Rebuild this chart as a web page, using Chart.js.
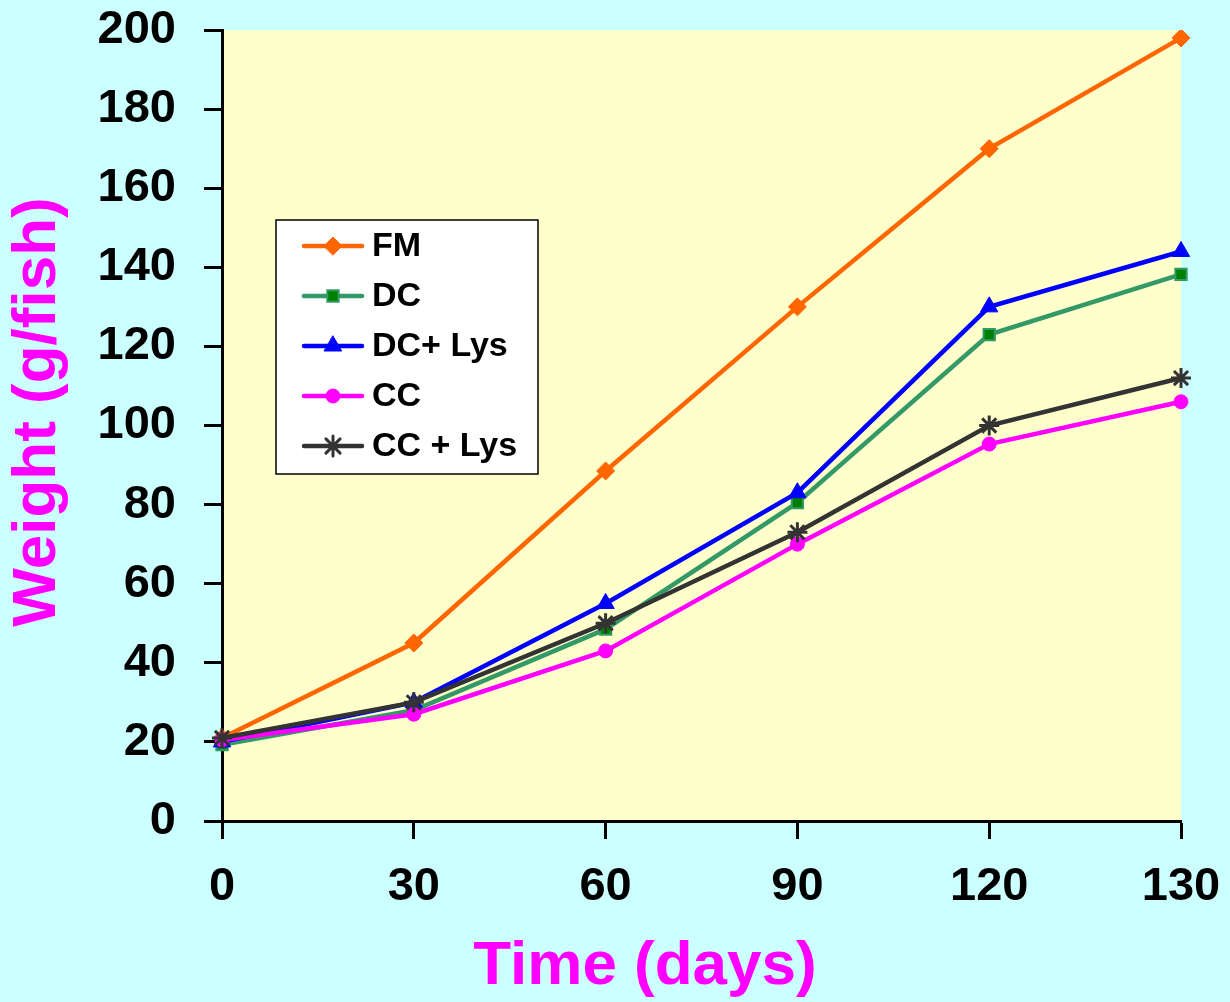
<!DOCTYPE html>
<html>
<head>
<meta charset="utf-8">
<script src="https://cdn.jsdelivr.net/npm/chart.js@4.4.1/dist/chart.umd.min.js"></script>
<style>
  html, body { margin: 0; padding: 0; background: #ccffff; }
  #wrap { width: 1230px; height: 1002px; position: relative; }
</style>
</head>
<body>
<div id="wrap"><canvas id="chart" width="1230" height="1002"></canvas></div>
<script>
// Data
const days = ['0', '30', '60', '90', '120', '130']
const fm = [21, 45, 88.5, 130, 170, 198]
const dc = [19.3, 28, 48.5, 80.5, 123, 138.2]
const dcLys = [20, 30, 55, 83, 130, 144]
const cc = [20.5, 27, 43, 70, 95.3, 106]
const ccLys = [21, 30, 50, 73, 100, 112]
const yTicks = [0, 20, 40, 60, 80, 100, 120, 140, 160, 180, 200]

const FONT = 'Arial, "Liberation Sans", sans-serif'

// Yellow plot area behind the lines
const plotBg = {
  id: 'plotBg',
  beforeDraw(chart) {
    const { ctx, chartArea: a } = chart
    ctx.save()
    ctx.fillStyle = '#ffffcc'
    ctx.fillRect(a.left, a.top, a.right - a.left, a.bottom - a.top)
    ctx.restore()
  }
}

// Boxed legend inside the plot, plus the two magenta axis titles
const extras = {
  id: 'extras',
  afterDraw(chart) {
    const ctx = chart.ctx
    ctx.save()

    // legend box
    ctx.fillStyle = '#ffffff'
    ctx.fillRect(276, 220, 262, 254)
    ctx.strokeStyle = '#000000'
    ctx.lineWidth = 1.5
    ctx.strokeRect(276, 220, 262, 254)

    chart.data.datasets.forEach((ds, i) => {
      const y = 246 + i * 50
      ctx.strokeStyle = ds.borderColor
      ctx.lineWidth = ds.borderWidth
      ctx.lineCap = 'round'
      ctx.beginPath()
      ctx.moveTo(304, y)
      ctx.lineTo(362, y)
      ctx.stroke()

      ctx.fillStyle = ds.pointBackgroundColor
      ctx.strokeStyle = ds.pointBorderColor
      ctx.lineWidth = ds.pointBorderWidth
      Chart.helpers.drawPoint(ctx, {
        pointStyle: ds.pointStyle,
        radius: ds.pointRadius,
        borderWidth: ds.pointBorderWidth,
        rotation: 0
      }, 333, y)

      ctx.fillStyle = '#000000'
      ctx.font = 'bold 34px ' + FONT
      ctx.textBaseline = 'middle'
      ctx.textAlign = 'left'
      ctx.fillText(ds.label, 372, y + 1)
    })

    // axis titles
    ctx.fillStyle = '#ff00ff'
    ctx.font = 'bold 62px ' + FONT
    ctx.textAlign = 'center'
    ctx.textBaseline = 'middle'
    ctx.fillText('Time (days)', 645, 967)

    ctx.translate(38, 412)
    ctx.rotate(-Math.PI / 2)
    ctx.fillText('Weight (g/fish)', 0, 0)

    ctx.restore()
  }
}

const series = [
  { label: 'FM', data: fm, line: '#ff6600', fill: '#ff6600', edge: '#ff6600', style: 'rectRot', r: 9, bw: 1 },
  { label: 'DC', data: dc, line: '#339966', fill: '#008000', edge: '#339966', style: 'rect', r: 8, bw: 2 },
  { label: 'DC+ Lys', data: dcLys, line: '#0000ff', fill: '#0000ff', edge: '#0000ff', style: 'triangle', r: 10, bw: 1 },
  { label: 'CC', data: cc, line: '#ff00ff', fill: '#ff00ff', edge: '#ff00ff', style: 'circle', r: 7, bw: 1 },
  { label: 'CC + Lys', data: ccLys, line: '#333333', fill: '#333333', edge: '#333333', style: 'star', r: 10, bw: 3 }
]

const datasets = series.map((s, i) => ({
  label: s.label,
  data: s.data,
  borderColor: s.line,
  borderWidth: 4.5,
  pointStyle: s.style,
  pointRadius: s.r,
  pointBackgroundColor: s.fill,
  pointBorderColor: s.edge,
  pointBorderWidth: s.bw,
  tension: 0,
  order: series.length - i
}))

// fix the axis boxes so the plot area lands where the reference has it
const noOverflow = scale => {
  scale.paddingTop = 0
  scale.paddingBottom = 0
  scale.paddingLeft = 0
  scale.paddingRight = 0
}

new Chart(document.getElementById('chart'), {
  type: 'line',
  data: { labels: days, datasets },
  options: {
    responsive: false,
    animation: false,
    layout: { padding: { top: 30, right: 49, left: 0, bottom: 0 } },
    plugins: {
      legend: { display: false },
      tooltip: { enabled: false }
    },
    scales: {
      x: {
        offset: false,
        grid: {
          drawOnChartArea: false,
          drawTicks: true,
          tickLength: 18,
          tickWidth: 3,
          tickColor: '#000000'
        },
        border: { display: true, color: '#000000', width: 3 },
        ticks: {
          color: '#000000',
          padding: 20,
          maxRotation: 0,
          font: { family: FONT, size: 47, weight: 'bold' }
        },
        afterFit(scale) {
          scale.height = 181
          noOverflow(scale)
        }
      },
      y: {
        min: 0,
        max: 200,
        afterBuildTicks(scale) { scale.ticks = yTicks.map(v => ({ value: v })) },
        grid: {
          drawOnChartArea: false,
          drawTicks: true,
          tickLength: 18,
          tickWidth: 3,
          tickColor: '#000000'
        },
        border: { display: true, color: '#000000', width: 3 },
        ticks: {
          color: '#000000',
          padding: 28,
          font: { family: FONT, size: 47, weight: 'bold' }
        },
        afterFit(scale) {
          scale.width = 222
          noOverflow(scale)
        }
      }
    }
  },
  plugins: [plotBg, extras]
})
</script>
</body>
</html>
